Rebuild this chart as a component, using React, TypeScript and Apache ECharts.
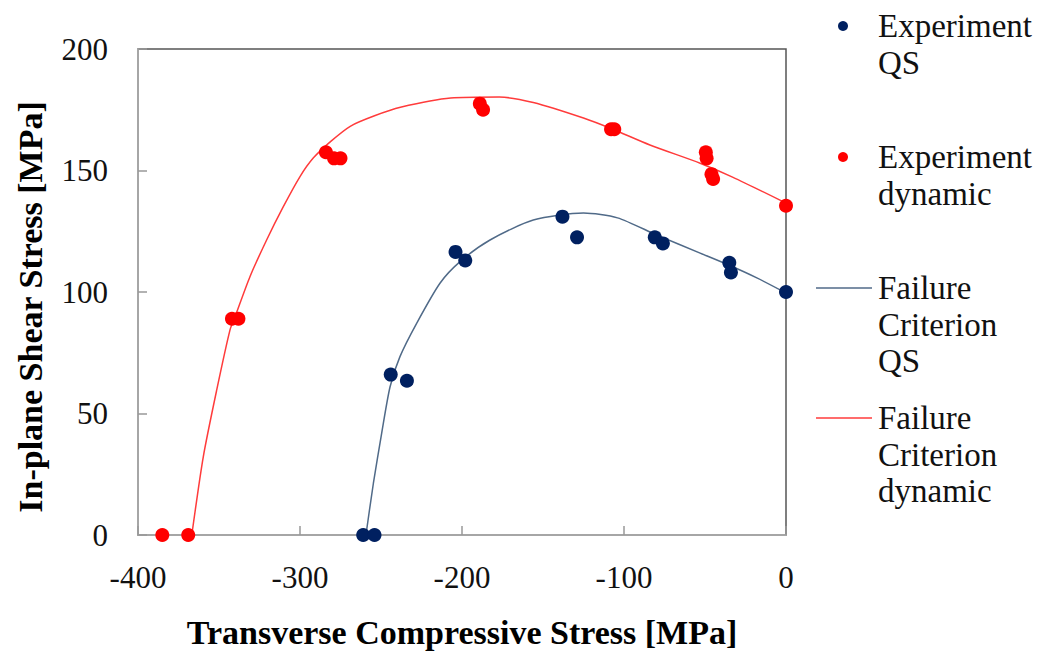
import React, { useEffect, useRef } from "react";
import * as echarts from "echarts";

const expQS: number[][] = [
  [-261, 0], [-254, 0], [-244, 66], [-234, 63.5], [-204, 116.5], [-198, 113],
  [-138, 131], [-129, 122.5], [-81, 122.5], [-76, 120], [-35, 112], [-34, 108], [0, 100],
];
const expDyn: number[][] = [
  [-385, 0], [-369, 0], [-342, 89], [-338, 89], [-284, 157.5], [-279, 155], [-275, 155],
  [-189, 177.5], [-187, 175], [-108, 167], [-106, 167], [-49.5, 157.5], [-49, 155],
  [-46, 148.5], [-45, 146.5], [0, 135.5],
];
const critQS: number[][] = [
  [-259.3, 0], [-254.7, 21.3], [-249.6, 41.8], [-244.4, 61], [-238.3, 73.4], [-228, 87.1],
  [-213.6, 103.6], [-201.2, 112.5], [-182.7, 121.4], [-156, 129.6], [-125, 132.5],
  [-104, 130.5], [-80, 123.5], [-53, 116], [-35, 111], [-18, 105.8], [0, 99.6],
];
const critDyn: number[][] = [
  [-366.8, 0], [-359.7, 32.2], [-351.4, 59.7], [-343.2, 84.4], [-340.1, 89.8], [-330.9, 106.3],
  [-320.6, 121.4], [-310.3, 135.1], [-300, 147.5], [-291.7, 155.2], [-281, 162], [-269, 168.2],
  [-254, 172.5], [-238, 176], [-207, 179.8], [-177, 180.2], [-156, 178], [-125, 171.6], [-107, 167],
  [-84, 160.5], [-53, 153], [-33, 147.3], [0, 136.6],
];
const xTicks = { min: -400, max: 0, interval: 100 };
const yTicks = { min: 0, max: 200, interval: 50 };
const legendItems = [
  { kind: "dot", color: "#002060", lines: ["Experiment", "QS"], y: 26 },
  { kind: "dot", color: "#ff0000", lines: ["Experiment", "dynamic"], y: 157 },
  { kind: "line", color: "#506a88", lines: ["Failure", "Criterion", "QS"], y: 288 },
  { kind: "line", color: "#ff3b3b", lines: ["Failure", "Criterion", "dynamic"], y: 418 },
];

const FONT = "Liberation Serif";

export default function App() {
  const ref = useRef<HTMLDivElement>(null);
  useEffect(() => {
    document.body.style.margin = "0";
    if (!ref.current) return;
    const chart = echarts.init(ref.current, undefined, { renderer: "svg" });
    const graphics: any[] = [];
    legendItems.forEach((it) => {
      if (it.kind === "dot") {
        graphics.push({ type: "circle", shape: { cx: 843, cy: it.y, r: 5 }, style: { fill: it.color } });
      } else {
        graphics.push({ type: "line", shape: { x1: 816, y1: it.y, x2: 872, y2: it.y }, style: { stroke: it.color, lineWidth: 1.5 } });
      }
      it.lines.forEach((t, i) => {
        graphics.push({
          type: "text", x: 878, y: it.y + i * 36.5,
          style: { text: t, fill: "#111", fontFamily: FONT, fontSize: 33, verticalAlign: "middle", align: "left" },
        });
      });
    });
    chart.setOption({
      animation: false,
      textStyle: { fontFamily: FONT },
      grid: { left: 138, top: 49, right: 265, bottom: 120, show: true, borderColor: "#555", borderWidth: 1.5 },
      xAxis: {
        type: "value", ...xTicks,
        name: "Transverse Compressive Stress [MPa]", nameLocation: "middle", nameGap: 80,
        nameTextStyle: { fontFamily: FONT, fontSize: 34, fontWeight: "bold", color: "#000" },
        axisLine: { show: true, onZero: false, lineStyle: { color: "#a6a6a6", width: 2 } },
        axisTick: { show: true, inside: true, length: 9, lineStyle: { color: "#999", width: 1.5 } },
        axisLabel: { fontFamily: FONT, fontSize: 31, color: "#111", margin: 27 },
        splitLine: { show: false },
      },
      yAxis: {
        type: "value", ...yTicks,
        name: "In-plane Shear Stress [MPa]", nameLocation: "middle", nameGap: 91,
        nameTextStyle: { fontFamily: FONT, fontSize: 34, fontWeight: "bold", color: "#000", padding: [0, 30, 0, 0] },
        axisLine: { show: true, onZero: false, lineStyle: { color: "#a6a6a6", width: 2 } },
        axisTick: { show: true, inside: true, length: 9, lineStyle: { color: "#999", width: 1.5 } },
        axisLabel: { fontFamily: FONT, fontSize: 31, color: "#111", margin: 30 },
        splitLine: { show: false },
      },
      series: [
        { name: "Failure Criterion QS", type: "line", data: critQS, smooth: 0.25, showSymbol: false, lineStyle: { color: "#506a88", width: 1.5 }, z: 2 },
        { name: "Failure Criterion dynamic", type: "line", data: critDyn, smooth: 0.25, showSymbol: false, lineStyle: { color: "#ff3b3b", width: 1.5 }, z: 2 },
        { name: "Experiment QS", type: "scatter", data: expQS, symbolSize: 14, itemStyle: { color: "#002060", opacity: 1 }, z: 3 },
        { name: "Experiment dynamic", type: "scatter", data: expDyn, symbolSize: 14, itemStyle: { color: "#ff0000", opacity: 1 }, z: 3 },
      ],
      graphic: graphics,
    });
    return () => chart.dispose();
  }, []);
  return <div ref={ref} style={{ width: 1051, height: 655 }} />;
}
